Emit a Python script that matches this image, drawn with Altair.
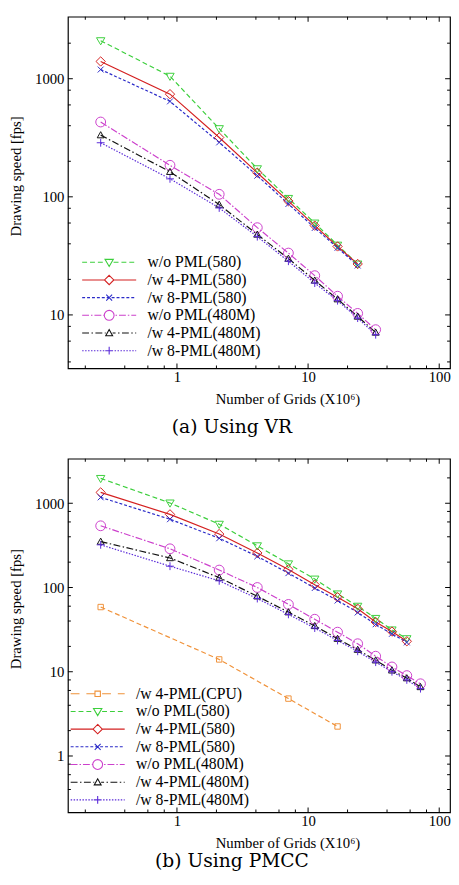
import altair as alt
import pandas as pd

# ---------------- data ----------------
series_names = ["/w 4-PML(CPU)", "w/o PML(580)", "/w 4-PML(580)", "/w 8-PML(580)",
                "w/o PML(480M)", "/w 4-PML(480M)", "/w 8-PML(480M)"]

grids = [0.262, 0.885, 2.10, 4.10, 7.08, 11.24, 16.78, 23.89, 32.77, 43.61, 56.62, 71.99]
cpu_grids = [0.262, 2.10, 7.08, 16.78]

# (a) Using VR
vr_wo_580 = [2100, 1050, 378, 173, 97, 60, 39, 27]
vr_4_580 = [1400, 740, 318, 160, 92, 57, 38, 27]
vr_8_580 = [1196, 643, 289, 151, 87, 54.5, 37, 26.2]
vr_wo_480 = [430, 185, 105, 54.8, 33.4, 21.5, 14.4, 10.3, 7.5]
vr_4_480 = [333, 163, 86, 48, 30, 19.6, 13.6, 9.7, 7.1]
vr_8_480 = [287, 142, 80.5, 46, 28.5, 18.6, 13.2, 9.4, 6.8]

# (b) Using PMCC
pm_4_cpu = [58.6, 14, 4.8, 2.24]
pm_wo_580 = [1972, 1008, 564, 313, 191, 126, 84, 60, 43, 31.4, 24.7]
pm_4_580 = [1344, 738, 431, 257, 164, 108, 76.7, 56, 39, 30, 23]
pm_8_580 = [1175, 646, 384, 234, 148, 98.6, 70, 50.5, 36.6, 28.2, 22.3]
pm_wo_480 = [540, 288, 161, 100, 63, 42, 29.5, 21.5, 15.3, 11.4, 9, 7.2]
pm_4_480 = [351, 224, 131, 78.7, 51, 35, 24.7, 18.3, 13.7, 10.4, 8.4, 6.6]
pm_8_480 = [321, 179, 120, 74, 48, 33, 23.5, 17.5, 13, 10, 8, 6.3]

# tick values
x_major = [1, 10, 100]
x_minor = [0.2, 0.4, 0.6, 0.8, 2, 4, 6, 8, 20, 40, 60, 80]
ya_major = [10, 100, 1000]
ya_minor = [4, 6, 8, 20, 40, 60, 80, 200, 400, 600, 800, 2000]
yb_major = [1, 10, 100, 1000]
yb_minor = [0.4, 0.6, 0.8, 2, 4, 6, 8, 20, 40, 60, 80, 200, 400, 600, 800, 2000]

# ---------------- styles ----------------
STYLE = {
    "/w 4-PML(CPU)": dict(color="#f0923a", dash=[9, 7], marker="square"),
    "w/o PML(580)": dict(color="#3ccf3c", dash=[5, 3], marker="tri_down"),
    "/w 4-PML(580)": dict(color="#d42020", dash=[], marker="diamond"),
    "/w 8-PML(580)": dict(color="#2a2ac8", dash=[3, 2], marker="x"),
    "w/o PML(480M)": dict(color="#cc40cc", dash=[7, 2, 1.5, 2], marker="circle"),
    "/w 4-PML(480M)": dict(color="#111111", dash=[7, 2.5, 1.5, 2.5], marker="tri_up"),
    "/w 8-PML(480M)": dict(color="#5a2ad8", dash=[1.5, 1.5], marker="plus"),
}

# marker glyphs (unit = 5 px at size 100) and half gap for legend line
MARKERS = {
    "square": ("M-0.55,-0.55L0.55,-0.55L0.55,0.55L-0.55,0.55Z", 0.55),
    "tri_down": ("M-0.85,-0.6L0.85,-0.6L0,0.85Z", 0.85),
    "diamond": ("M0,-0.95L0.95,0L0,0.95L-0.95,0Z", 0.95),
    "x": ("M-0.6,-0.6L0.6,0.6M-0.6,0.6L0.6,-0.6", 0.0),
    "circle": ("M1,0A1,1,0,1,1,-1,0A1,1,0,1,1,1,0Z", 1.0),
    "tri_up": ("M-0.7,0.55L0.7,0.55L0,-0.7Z", 0.7),
    "plus": ("M-0.8,0L0.8,0M0,-0.8L0,0.8", 0.0),
}


def legend_path(dash_px, marker_key):
    mpath, gap = MARKERS[marker_key]
    L = 5.5
    pieces = []

    def add(a, b):
        for lo, hi in ((a, min(b, -gap)), (max(a, gap), b)):
            if hi - lo > 0.02:
                pieces.append(f"M{lo:.3f},0L{hi:.3f},0")

    if not dash_px:
        add(-L, L)
    else:
        units = [d / 5.0 for d in dash_px]
        x, i = -L, 0
        while x < L:
            nx = min(x + units[i % len(units)], L)
            if i % 2 == 0:
                add(x, nx)
            x, i = nx, i + 1
    return "".join(pieces) + mpath


FONT = "Liberation Serif"
X_DOMAIN = [0.1474, 120.9]
W = 389
MAJOR_LEN = 5
MINOR_LEN = 3


def tick_layers(H, X, yfield_scale, yaxis, ymaj, ymin):
    out = []
    for vals, ln in ((x_major, MAJOR_LEN), (x_minor, MINOR_LEN)):
        base = alt.Chart(pd.DataFrame({"x": vals})).mark_tick(
            orient="vertical", color="black", thickness=1, opacity=1)
        for yv in (ln / 2.0, H - ln / 2.0):
            out.append(base.encode(x=X, y=alt.value(yv), size=alt.value(ln)))
    for vals, ln in ((ymaj, MAJOR_LEN), (ymin, MINOR_LEN)):
        base = alt.Chart(pd.DataFrame({"y": vals})).mark_tick(
            orient="horizontal", color="black", thickness=1, opacity=1)
        for xv in (ln / 2.0, W - ln / 2.0):
            out.append(base.encode(y=alt.Y("y:Q", scale=yfield_scale, axis=yaxis),
                                   x=alt.value(xv), size=alt.value(ln)))
    return out


def panel(names, data, H, ydom, ymaj, ymin, caption, title_y, leg_x, leg_y, cap_offset):
    rows = []
    for n in names:
        xs, ys = data[n]
        for xv, yv in zip(xs, ys):
            rows.append({"series": n, "x": xv, "y": yv})
    df = pd.DataFrame(rows)

    xscale = alt.Scale(type="log", domain=X_DOMAIN, nice=False)
    yscale = alt.Scale(type="log", domain=ydom, nice=False)
    colors = [STYLE[n]["color"] for n in names]
    dashes = [STYLE[n]["dash"] for n in names]
    mpaths = [MARKERS[STYLE[n]["marker"]][0] for n in names]
    lpaths = [legend_path(STYLE[n]["dash"], STYLE[n]["marker"]) for n in names]

    xaxis = alt.Axis(values=x_major, format="~g", title="Number of Grids (X10⁶)",
                     titleX=223.5, ticks=False, domain=False, grid=False,
                     labelFont=FONT, labelFontSize=15, labelColor="black",
                     titleFont=FONT, titleFontSize=15, titleFontWeight="normal",
                     titleColor="black", labelPadding=1, titlePadding=8)
    yaxis = alt.Axis(values=ymaj, format="d", title="Drawing speed [fps]",
                     titleX=-53, titleY=title_y, titleBaseline="middle", titleAngle=270,
                     ticks=False, domain=False, grid=False,
                     labelFont=FONT, labelFontSize=15, labelColor="black",
                     titleFont=FONT, titleFontSize=15, titleFontWeight="normal",
                     titleColor="black", labelPadding=4)

    X = alt.X("x:Q", scale=xscale, axis=xaxis)
    Y = alt.Y("y:Q", scale=yscale, axis=yaxis)
    cscale = alt.Scale(domain=names, range=colors)
    lines = alt.Chart(df).mark_line(strokeWidth=1.2, clip=True).encode(
        x=X, y=Y,
        color=alt.Color("series:N", scale=cscale, legend=None),
        strokeDash=alt.StrokeDash("series:N", scale=alt.Scale(domain=names, range=dashes),
                                  legend=None),
        order=alt.Order("x:Q"),
    )
    points = alt.Chart(df).mark_point(filled=False, size=100, strokeWidth=1,
                                      opacity=1, clip=True).encode(
        x=X, y=Y,
        color=alt.Color("series:N", scale=cscale, legend=None),
        shape=alt.Shape("series:N", scale=alt.Scale(domain=names, range=mpaths),
                        legend=None),
    )
    leg = alt.Legend(title=None, orient="none", legendX=leg_x, legendY=leg_y,
                     symbolSize=100, symbolStrokeWidth=1.1, symbolOpacity=1,
                     labelFont=FONT, labelFontSize=16, labelColor="black",
                     labelOffset=31, rowPadding=2, padding=0, labelLimit=300)
    legend_layer = alt.Chart(df).mark_point(filled=False, size=100, strokeWidth=1.1,
                                            opacity=0).encode(
        x=X, y=Y,
        color=alt.Color("series:N", scale=cscale, legend=leg),
        shape=alt.Shape("series:N", scale=alt.Scale(domain=names, range=lpaths),
                        legend=leg),
    )
    layers = [lines, points, legend_layer] + tick_layers(H, X, yscale, yaxis, ymaj, ymin)
    return alt.layer(*layers).resolve_scale(color="independent", shape="independent").properties(
        width=W, height=H,
        title=alt.TitleParams(text=caption, orient="bottom", anchor="middle", frame="group",
                              font="DejaVu Serif", fontSize=19, fontWeight="normal",
                              color="black", dx=-27.5, offset=cap_offset),
    )


names_a = series_names[1:]
data_a = {
    "w/o PML(580)": (grids[:8], vr_wo_580),
    "/w 4-PML(580)": (grids[:8], vr_4_580),
    "/w 8-PML(580)": (grids[:8], vr_8_580),
    "w/o PML(480M)": (grids[:9], vr_wo_480),
    "/w 4-PML(480M)": (grids[:9], vr_4_480),
    "/w 8-PML(480M)": (grids[:9], vr_8_480),
}
names_b = series_names
data_b = {
    "/w 4-PML(CPU)": (cpu_grids, pm_4_cpu),
    "w/o PML(580)": (grids[:11], pm_wo_580),
    "/w 4-PML(580)": (grids[:11], pm_4_580),
    "/w 8-PML(580)": (grids[:11], pm_8_580),
    "w/o PML(480M)": (grids[:12], pm_wo_480),
    "/w 4-PML(480M)": (grids[:12], pm_4_480),
    "/w 8-PML(480M)": (grids[:12], pm_8_480),
}

pa = panel(names_a, data_a, 358, [3.527, 3350], ya_major, ya_minor,
           "(a) Using VR", 162, 34, 242, 12)
pb = panel(names_b, data_b, 360, [0.2143, 3376], yb_major, yb_minor,
           "(b) Using PMCC", 152.6, 22.3, 231.3, 2)

chart = alt.vconcat(pa, pb, spacing=20, padding=0).configure(
    font=FONT
).configure_view(
    stroke="black", strokeWidth=1.2
)

chart.save("out.html", embed_options={"renderer": "svg", "actions": False})
